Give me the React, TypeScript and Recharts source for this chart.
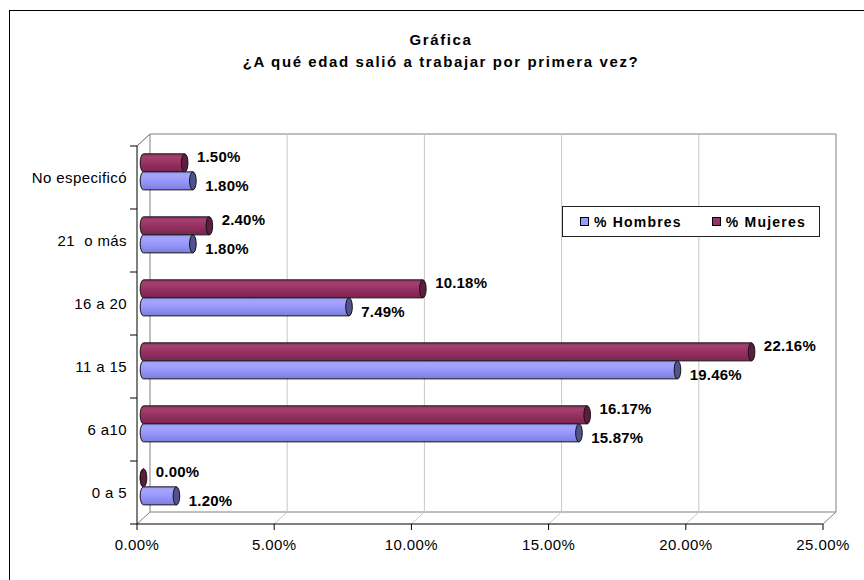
import React from "react";
import {
  BarChart,
  Bar,
  XAxis,
  YAxis,
  CartesianGrid,
  LabelList,
  Legend,
} from "recharts";

// chart values, top row first
const categories = ["No especificó", "21  o más", "16 a 20", "11 a 15", "6 a10", "0 a 5"];
const hombres = [1.8, 1.8, 7.49, 19.46, 15.87, 1.2];
const mujeres = [1.5, 2.4, 10.18, 22.16, 16.17, 0.0];
const xTicks = [0, 5, 10, 15, 20, 25];
const titleLines = ["Gráfica", "¿A qué edad salió a trabajar por primera vez?"];

const data = categories.map((cat, i) => ({ cat, h: hombres[i], m: mujeres[i] }));

const FONT = '"Liberation Sans", Arial, sans-serif';
const DX = 13; // depth of the 3d walls
const DY = -12;
const BDX = 6.5; // bars sit halfway in depth
const BDY = -6;
const RX = 3.3;

const fmt = (v: number) => v.toFixed(2) + "%";

function makeCylinder(gradId: string, cap: string) {
  return (p: any) => {
    const w = Math.max(0, p.width || 0);
    const x0 = p.x + BDX;
    const x1 = p.x + w + BDX;
    const yt = p.y + BDY;
    const yb = p.y + p.height + BDY;
    const ry = p.height / 2;
    const yc = yt + ry;
    return (
      <g>
        <path
          d={`M${x0},${yt} L${x1},${yt} L${x1},${yb} L${x0},${yb} A${RX},${ry} 0 0 1 ${x0},${yt} Z`}
          fill={`url(#${gradId})`}
          stroke="#111"
          strokeWidth={1}
        />
        <ellipse cx={x1} cy={yc} rx={RX} ry={ry} fill={cap} stroke="#111" strokeWidth={1} />
      </g>
    );
  };
}

function makeLabel(dyOff: number) {
  return (p: any) => {
    const vb = p.viewBox || {};
    const x = p.x ?? vb.x;
    const y = p.y ?? vb.y;
    const width = p.width ?? vb.width ?? 0;
    const height = p.height ?? vb.height ?? 0;
    return (
      <text
        x={x + width + BDX + RX + 9}
        y={y + BDY + height / 2 + dyOff}
        dominantBaseline="central"
        fontFamily={FONT}
        fontSize={15}
        fontWeight="bold"
        letterSpacing={0.2}
        fill="#000"
      >
        {fmt(p.value)}
      </text>
    );
  };
}

const XTick = (p: any) => (
  <text
    x={p.x}
    y={p.y}
    dy="0.71em"
    textAnchor="middle"
    fontFamily={FONT}
    fontSize={15}
    letterSpacing={0.4}
    fill="#000"
  >
    {fmt(p.payload.value)}
  </text>
);

const YTick = (p: any) => (
  <text
    x={p.x}
    y={p.y}
    dy="0.35em"
    textAnchor="end"
    fontFamily={FONT}
    fontSize={15}
    letterSpacing={0.4}
    fill="#000"
    style={{ whiteSpace: "pre" }}
  >
    {p.payload.value}
  </text>
);

const vLine = (p: any) => {
  const edge = p.index === 0 || p.index === xTicks.length - 1;
  const c = edge ? "#808080" : "#c8c8c8";
  return (
    <g key={"v" + p.index}>
      <line x1={p.x1 + DX} y1={p.y1 + DY} x2={p.x1 + DX} y2={p.y2 + DY} stroke={c} />
      <line x1={p.x1} y1={p.y2} x2={p.x1 + DX} y2={p.y2 + DY} stroke={c} />
    </g>
  );
};

const hLine = (p: any) => {
  const n = categories.length;
  return (
    <g key={"h" + p.index}>
      <line x1={p.x1 - 7} y1={p.y1} x2={p.x1} y2={p.y1} stroke="#000" />
      {p.index === 0 && (
        <>
          <line x1={p.x1 + DX} y1={p.y1 + DY} x2={p.x2 + DX} y2={p.y1 + DY} stroke="#808080" />
          <line x1={p.x1} y1={p.y1} x2={p.x1 + DX} y2={p.y1 + DY} stroke="#606060" />
        </>
      )}
      {p.index === n && (
        <line x1={p.x1 + DX} y1={p.y1 + DY} x2={p.x2 + DX} y2={p.y1 + DY} stroke="#808080" />
      )}
    </g>
  );
};

const bandEdges = ({ offset }: any) => {
  const n = categories.length;
  const out: number[] = [];
  for (let i = 0; i <= n; i++) out.push(offset.top + (i * offset.height) / n);
  return out;
};

const legendItems = [
  { name: "% Hombres", color: "#9999ff" },
  { name: "% Mujeres", color: "#993366" },
];

const LegendBox = () => (
  <div
    style={{
      boxSizing: "border-box",
      width: 258,
      height: 31,
      border: "1px solid #222",
      background: "#fff",
      display: "flex",
      alignItems: "center",
      paddingLeft: 17,
      fontFamily: FONT,
      fontSize: 14,
      fontWeight: "bold",
      letterSpacing: 1.2,
    }}
  >
    {legendItems.map((it, i) => (
      <div key={it.name} style={{ display: "flex", alignItems: "center", marginRight: i === 0 ? 30 : 0 }}>
        <span
          style={{
            display: "inline-block",
            width: 7,
            height: 7,
            border: "1px solid #000",
            background: it.color,
            marginRight: 5,
          }}
        />
        <span>{it.name}</span>
      </div>
    ))}
  </div>
);

export default function App() {
  return (
    <div
      style={{
        position: "fixed",
        left: 0,
        top: 0,
        width: 864,
        height: 580,
        overflow: "hidden",
        background: "#fff",
      }}
    >
      <div
        style={{
          position: "absolute",
          left: 9,
          top: 10,
          width: 900,
          height: 600,
          borderLeft: "1px solid #000",
          borderTop: "1px solid #000",
        }}
      />
      <div
        style={{
          position: "absolute",
          left: 8,
          top: 29,
          width: 864,
          textAlign: "center",
          fontFamily: FONT,
          fontSize: 15,
          fontWeight: "bold",
          lineHeight: "22px",
          letterSpacing: 1.6,
          paddingLeft: 2,
          boxSizing: "border-box",
        }}
      >
        {titleLines.map((t) => (
          <div key={t}>{t}</div>
        ))}
      </div>
      <div style={{ position: "absolute", left: 0, top: 0 }}>
        <BarChart
          width={864}
          height={580}
          data={data}
          layout="vertical"
          margin={{ top: 146, right: 41, bottom: 0, left: 0 }}
          barCategoryGap="22%"
          barGap={0}
        >
          <CartesianGrid
            vertical={vLine}
            horizontal={hLine}
            horizontalCoordinatesGenerator={bandEdges}
          />
          <XAxis
            type="number"
            domain={[0, 25]}
            ticks={xTicks}
            interval={0}
            height={56}
            tickSize={6}
            tickMargin={9}
            axisLine={{ stroke: "#000" }}
            tickLine={{ stroke: "#000" }}
            tick={XTick}
          />
          <YAxis
            type="category"
            dataKey="cat"
            width={137}
            interval={0}
            tickLine={false}
            tickSize={0}
            tickMargin={10}
            axisLine={{ stroke: "#000" }}
            tick={YTick}
          />
          <Legend
            layout="horizontal"
            verticalAlign="middle"
            align="center"
            content={LegendBox}
            wrapperStyle={{ left: 562, top: 206, width: 258, height: 31 }}
          />
          <defs>
            <linearGradient id="gH" x1="0" y1="0" x2="0" y2="1">
              <stop offset="0" stopColor="#9c9cf4" />
              <stop offset="0.2" stopColor="#a4a4ff" />
              <stop offset="0.55" stopColor="#9696fa" />
              <stop offset="1" stopColor="#7c7cdc" />
            </linearGradient>
            <linearGradient id="gM" x1="0" y1="0" x2="0" y2="1">
              <stop offset="0" stopColor="#943562" />
              <stop offset="0.2" stopColor="#a3406f" />
              <stop offset="0.55" stopColor="#952f60" />
              <stop offset="1" stopColor="#7a254e" />
            </linearGradient>
          </defs>
          <Bar
            dataKey="m"
            name="% Mujeres"
            fill="#993366"
            isAnimationActive={false}
            shape={makeCylinder("gM", "#5e1d3e")}
          >
            <LabelList dataKey="m" content={makeLabel(-6)} />
          </Bar>
          <Bar
            dataKey="h"
            name="% Hombres"
            fill="#9999ff"
            isAnimationActive={false}
            shape={makeCylinder("gH", "#52528f")}
          >
            <LabelList dataKey="h" content={makeLabel(5)} />
          </Bar>
        </BarChart>
      </div>
    </div>
  );
}
